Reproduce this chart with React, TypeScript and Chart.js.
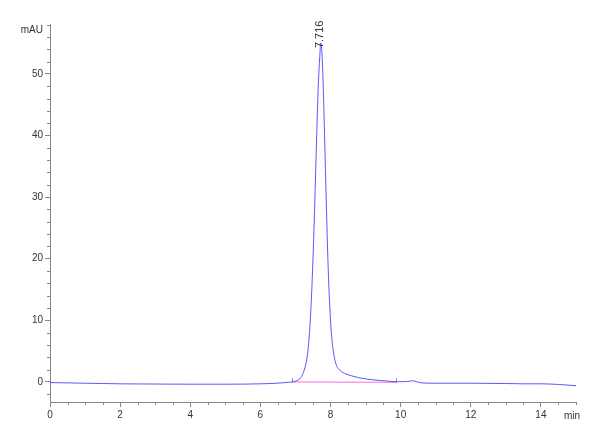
import React, { useEffect, useRef } from "react";
import { Chart, registerables } from "chart.js";

Chart.register(...registerables);

// Retention time (min) and detector signal (mAU)
const times: number[] = [
  0, 0.5, 1, 1.5, 2, 2.5, 3, 3.3, 3.5, 4, 4.5, 5, 5.5, 6, 6.3, 6.6, 6.8, 6.9,
  7.0, 7.1, 7.2, 7.3, 7.35, 7.4, 7.45, 7.5, 7.55, 7.6, 7.65, 7.7, 7.716, 7.74,
  7.78, 7.83, 7.88, 7.93, 7.98, 8.03, 8.08, 8.15, 8.25, 8.4, 8.6, 8.8, 9.0,
  9.3, 9.6, 9.9, 10.1, 10.25, 10.35, 10.45, 10.6, 11, 12, 13, 13.5, 14, 14.5, 15,
];
const signal: number[] = [
  -0.1, -0.15, -0.2, -0.25, -0.3, -0.32, -0.33, -0.35, -0.35, -0.36, -0.36, -0.36, -0.35, -0.3, -0.25, -0.15, -0.05, 0.0,
  0.15, 0.4, 1.2, 3.0, 4.8, 8, 13, 20, 29, 39, 48, 53.5, 55, 54.5,
  50, 40, 29, 19, 12, 7.5, 5, 3, 2.0, 1.4, 1.0, 0.7, 0.5,
  0.3, 0.15, 0.05, 0.05, 0.12, 0.2, 0.05, -0.15, -0.2, -0.2, -0.25, -0.3, -0.3, -0.4, -0.6,
];

// Integration baseline of the peak
const baselineTimes: number[] = [6.9, 9.87];
const baselineValues: number[] = [0.0, -0.05];

// Peak annotation
const peakTime = 7.716;
const peakHeight = 55;
const peakLabel = "7.716";

// Axes
const xMin = 0;
const xMax = 15;
const xMajorStep = 2;
const xMinorStep = 0.5;
const yMin = -3.25;
const yMax = 58.1;
const yMajorStep = 10;
const yMinorStep = 2;
const yUnit = "mAU";
const xUnit = "min";

const FONT = "'Liberation Sans Narrow', 'Liberation Sans', Arial, sans-serif";
const AXIS_COLOR = "#8a8a8a";
const TEXT_COLOR = "#333333";

const decorPlugin = {
  id: "decor",
  afterDraw(chart: any) {
    const { ctx, scales } = chart;
    const xs = scales.x;
    const ys = scales.y;
    const area = chart.chartArea;
    ctx.save();
    // minor ticks
    ctx.strokeStyle = AXIS_COLOR;
    ctx.lineWidth = 1;
    ctx.beginPath();
    for (let v = Math.ceil(yMin / yMinorStep) * yMinorStep; v <= yMax; v += yMinorStep) {
      if (Math.abs(v % yMajorStep) < 1e-6) continue;
      const py = Math.round(ys.getPixelForValue(v)) + 0.5;
      ctx.moveTo(area.left - 3, py);
      ctx.lineTo(area.left, py);
    }
    for (let v = xMin; v <= xMax + 1e-6; v += xMinorStep) {
      if (Math.abs(v % xMajorStep) < 1e-6) continue;
      const px = Math.round(xs.getPixelForValue(v)) + 0.5;
      ctx.moveTo(px, area.bottom);
      ctx.lineTo(px, area.bottom + 3);
    }
    // integration marks
    for (let i = 0; i < baselineTimes.length; i++) {
      const px = Math.round(xs.getPixelForValue(baselineTimes[i])) + 0.5;
      const py = ys.getPixelForValue(baselineValues[i]);
      ctx.moveTo(px, py - 4);
      ctx.lineTo(px, py + 1);
    }
    ctx.stroke();

    // unit labels
    ctx.fillStyle = TEXT_COLOR;
    ctx.font = `10px ${FONT}`;
    ctx.textBaseline = "middle";
    ctx.textAlign = "right";
    ctx.fillText(yUnit, area.left - 7, 30);
    ctx.textAlign = "left";
    ctx.fillText(xUnit, area.right - 12, 416);

    // peak label, rotated
    const px = xs.getPixelForValue(peakTime);
    const py = ys.getPixelForValue(peakHeight);
    ctx.translate(px - 1, py + 5);
    ctx.rotate(-Math.PI / 2);
    ctx.textAlign = "left";
    ctx.textBaseline = "middle";
    ctx.font = `11px ${FONT}`;
    ctx.fillText(peakLabel, 0, 0);
    ctx.restore();
  },
};

export default function App() {
  const canvasRef = useRef<HTMLCanvasElement | null>(null);

  useEffect(() => {
    if (!canvasRef.current) return;
    const chart = new Chart(canvasRef.current, {
      type: "line",
      data: {
        datasets: [
          {
            label: "signal",
            data: times.map((t, i) => ({ x: t, y: signal[i] })),
            borderColor: "rgba(70,70,255,0.9)",
            borderWidth: 1,
            pointRadius: 0,
            cubicInterpolationMode: "monotone",
            fill: false,
          },
          {
            label: "baseline",
            data: baselineTimes.map((t, i) => ({ x: t, y: baselineValues[i] })),
            borderColor: "rgba(255,90,210,0.9)",
            borderWidth: 1,
            pointRadius: 0,
            fill: false,
          },
        ],
      },
      options: {
        animation: false,
        responsive: true,
        maintainAspectRatio: false,
        layout: { padding: { top: 24, right: 24, left: 0, bottom: 0 } },
        plugins: {
          legend: { display: false },
          tooltip: { enabled: false },
        },
        scales: {
          x: {
            type: "linear",
            min: xMin,
            max: xMax,
            grid: {
              drawOnChartArea: false,
              tickLength: 5,
              color: AXIS_COLOR,
            },
            border: { color: AXIS_COLOR, width: 1 },
            ticks: {
              stepSize: xMajorStep,
              includeBounds: false,
              maxRotation: 0,
              autoSkip: false,
              color: TEXT_COLOR,
              font: { family: FONT, size: 10 },
              padding: 2,
            },
            afterFit: (scale: any) => {
              scale.height = 38;
            },
          },
          y: {
            min: yMin,
            max: yMax,
            grid: {
              drawOnChartArea: false,
              tickLength: 5,
              color: AXIS_COLOR,
            },
            border: { color: AXIS_COLOR, width: 1 },
            ticks: {
              stepSize: yMajorStep,
              includeBounds: false,
              autoSkip: false,
              color: TEXT_COLOR,
              font: { family: FONT, size: 10 },
              padding: 2,
            },
            afterFit: (scale: any) => {
              scale.width = 50;
            },
          },
        },
      },
      plugins: [decorPlugin],
    } as any);
    return () => chart.destroy();
  }, []);

  return (
    <div style={{ position: "fixed", left: 0, top: 0, width: 600, height: 440, background: "#fff" }}>
      <canvas ref={canvasRef} />
    </div>
  );
}
